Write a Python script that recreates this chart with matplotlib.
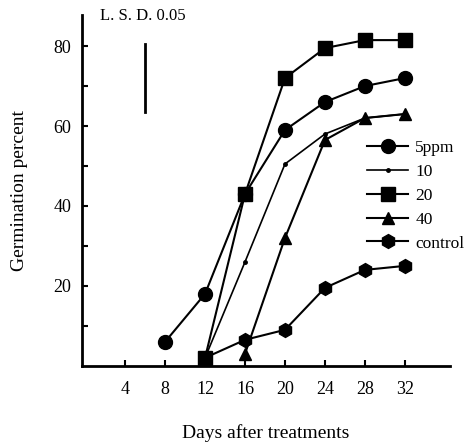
import matplotlib
matplotlib.use('agg')
import matplotlib.pyplot as plt

plt.rcParams['font.family'] = ['Liberation Serif', 'DejaVu Serif']

# days after treatments and germination percent for each treatment
days_5ppm = [8, 12, 16, 20, 24, 28, 32]
germ_5ppm = [6, 18, 43, 59, 66, 70, 72]

days_10 = [12, 16, 20, 24, 28, 32]
germ_10 = [2, 26, 50.5, 58, 62, 63]

days_20 = [12, 16, 20, 24, 28, 32]
germ_20 = [2, 43, 72, 79.5, 81.5, 81.5]

days_40 = [16, 20, 24, 28, 32]
germ_40 = [3, 32, 56.5, 62, 63]

days_control = [12, 16, 20, 24, 28, 32]
germ_control = [2, 6.5, 9, 19.5, 24, 25]

lsd_day = 6
lsd_range = [63.5, 80.5]

xticks = [4, 8, 12, 16, 20, 24, 28, 32]
yticks = [20, 40, 60, 80]
yminor = [10, 30, 50, 70]

fig = plt.figure(figsize=(4.75, 4.45), dpi=100)
ax = fig.add_axes([0.173, 0.178, 0.774, 0.788])

ax.plot(days_5ppm, germ_5ppm, '-o', color='black', lw=1.5, ms=10, label='5ppm')
ax.plot(days_10, germ_10, '-o', color='black', lw=1.2, ms=2.5, label='10')
ax.plot(days_20, germ_20, '-s', color='black', lw=1.5, ms=10, label='20')
ax.plot(days_40, germ_40, '-^', color='black', lw=1.5, ms=8, label='40')
ax.plot(days_control, germ_control, '-h', color='black', lw=1.5, ms=10, label='control')

# LSD bar
ax.plot([lsd_day, lsd_day], lsd_range, color='black', lw=2)
ax.text(1.5, 87.5, 'L. S. D. 0.05', fontsize=12, va='center', ha='left')

ax.set_xlim(-0.3, 36.5)
ax.set_ylim(0, 87.75)
ax.set_xticks(xticks)
ax.set_yticks(yticks)
ax.set_yticks(yminor, minor=True)
ax.tick_params(direction='in', length=4, width=1.5, labelsize=13)
ax.tick_params(which='minor', direction='in', length=4, width=1.5)
ax.tick_params(axis='x', pad=11)
ax.tick_params(axis='y', pad=8)

for s in ['top', 'right']:
    ax.spines[s].set_visible(False)
for s in ['left', 'bottom']:
    ax.spines[s].set_linewidth(2)

ax.set_xlabel('Days after treatments', fontsize=14, labelpad=19)
ax.set_ylabel('Germination percent', fontsize=14, labelpad=18)

ax.legend(loc='upper left', bbox_to_anchor=(0.755, 0.665), frameon=False,
          fontsize=12.5, handlelength=2.4, handletextpad=0.4, labelspacing=0.45,
          borderaxespad=0)

plt.savefig('out.png', dpi=100)
